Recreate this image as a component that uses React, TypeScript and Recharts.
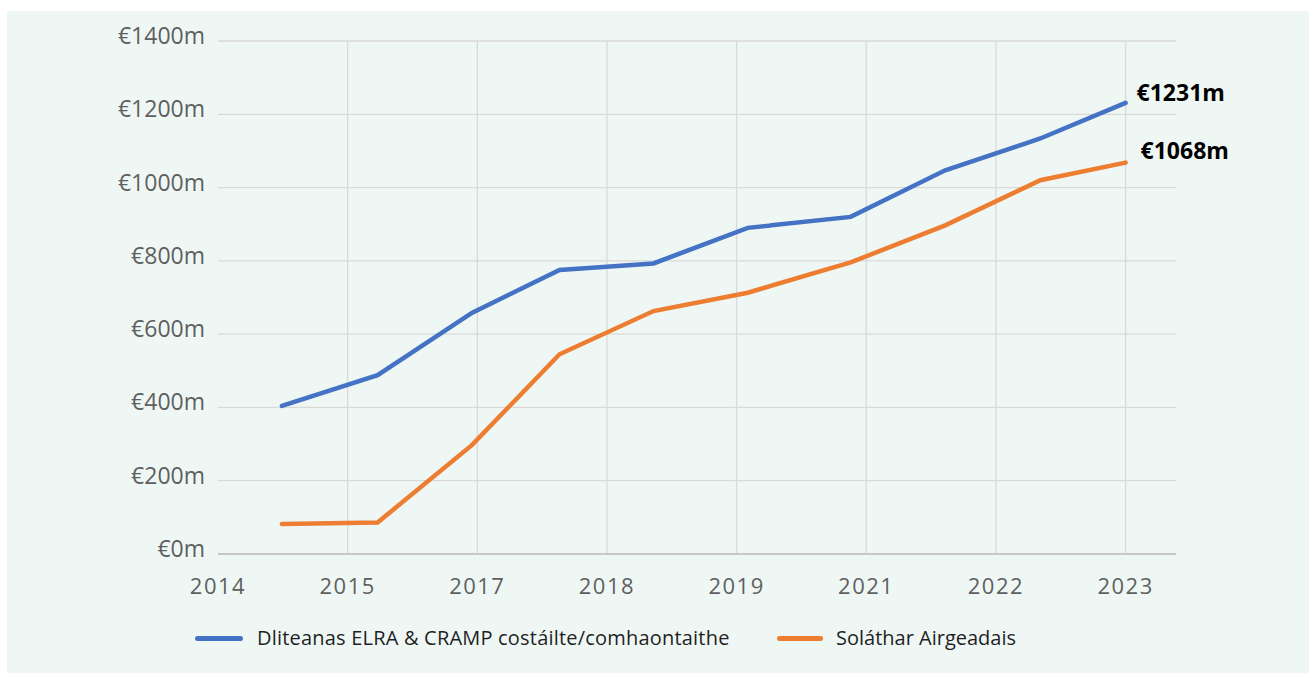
import React from "react";
import { LineChart, Line, XAxis, YAxis, CartesianGrid, Legend } from "recharts";

// x position of each report, in axis units (0 = 2014 gridline)
const periods = [0.493, 1.231, 1.958, 2.634, 3.359, 4.086, 4.88, 5.609, 6.342, 7.0];
const liabilities = [404, 488, 658, 775, 793, 890, 920, 1047, 1134, 1231];
const provision = [82, 86, 297, 545, 663, 713, 796, 897, 1020, 1068];
const yearLabels = ["2014", "2015", "2017", "2018", "2019", "2021", "2022", "2023"];
const yTicks = [0, 200, 400, 600, 800, 1000, 1200, 1400];
const seriesNames = ["Dliteanas ELRA & CRAMP costáilte/comhaontaithe", "Soláthar Airgeadais"];

const BLUE = "#4472C4";
const ORANGE = "#ED7D31";
const FONT = "'Open Sans', 'Noto Sans', sans-serif";

const data = periods.map((p, i) => ({
    t: p,
    liabilities: liabilities[i],
    provision: provision[i],
}));

const xTicks = yearLabels.map((_, i) => i);

const YTick = ({ x, y, payload }: any) => (
    <text x={x} y={y + 3} textAnchor="end" fill="#5f5f5f" fontSize={23} fontFamily={FONT}>
        {`€${payload.value}m`}
    </text>
);

const XTick = ({ x, y, payload }: any) => (
    <text x={x} y={y + 40} textAnchor="middle" fill="#5f5f5f" fontSize={22} fontFamily={FONT} letterSpacing={1.5}>
        {yearLabels[payload.value]}
    </text>
);

const endLabel = (dx: number, dy: number) => (props: any) => {
    const { x, y, index, value } = props;
    if (index !== periods.length - 1) return null;
    return (
        <text x={x + dx} y={y + dy} fill="#000" fontSize={23} fontWeight="bold" fontFamily={FONT}>
            {`€${value}m`}
        </text>
    );
};

const LegendBox = () => (
    <div style={{ position: "relative", height: 30, fontFamily: FONT, fontSize: 20, color: "#1f1f1f" }}>
        <div style={{ position: "absolute", left: 188, top: 13, width: 48, height: 5, borderRadius: 3, background: BLUE }} />
        <span style={{ position: "absolute", left: 250, top: 1, whiteSpace: "nowrap", letterSpacing: 0.2 }}>{seriesNames[0]}</span>
        <div style={{ position: "absolute", left: 770, top: 13, width: 46, height: 5, borderRadius: 3, background: ORANGE }} />
        <span style={{ position: "absolute", left: 829, top: 1, whiteSpace: "nowrap" }}>{seriesNames[1]}</span>
    </div>
);

const App = () => {
    return (
        <div style={{ position: "fixed", top: 11, left: 7, right: 0, bottom: 0, background: "#EFF7F5", overflow: "hidden" }}>
            <LineChart width={1302} height={662} data={data} margin={{ top: 30, right: 133, left: 0, bottom: 49 }}>
                <CartesianGrid stroke="#d9d9d9" strokeWidth={1.3} verticalValues={xTicks.slice(1)} />
                <XAxis
                    dataKey="t"
                    type="number"
                    domain={[0, 7.389]}
                    ticks={xTicks}
                    interval={0}
                    allowDataOverflow
                    height={40}
                    tickSize={0}
                    tickMargin={0}
                    stroke="#bfbfbf"
                    strokeWidth={1.5}
                    tick={<XTick />}
                />
                <YAxis
                    type="number"
                    domain={[0, 1400]}
                    ticks={yTicks}
                    width={211}
                    axisLine={false}
                    tickLine={false}
                    tickSize={0}
                    tickMargin={13}
                    tick={<YTick />}
                />
                <Legend
                    verticalAlign="bottom"
                    wrapperStyle={{ left: 0, top: 612, bottom: "auto", width: 1302 }}
                    content={() => <LegendBox />}
                />
                <Line
                    name={seriesNames[0]}
                    type="linear"
                    dataKey="liabilities"
                    stroke={BLUE}
                    strokeWidth={4.5}
                    strokeLinecap="round"
                    dot={false}
                    isAnimationActive={false}
                    label={endLabel(11, -2)}
                />
                <Line
                    name={seriesNames[1]}
                    type="linear"
                    dataKey="provision"
                    stroke={ORANGE}
                    strokeWidth={4.5}
                    strokeLinecap="round"
                    dot={false}
                    isAnimationActive={false}
                    label={endLabel(15, -4)}
                />
            </LineChart>
        </div>
    );
};

export default App;
